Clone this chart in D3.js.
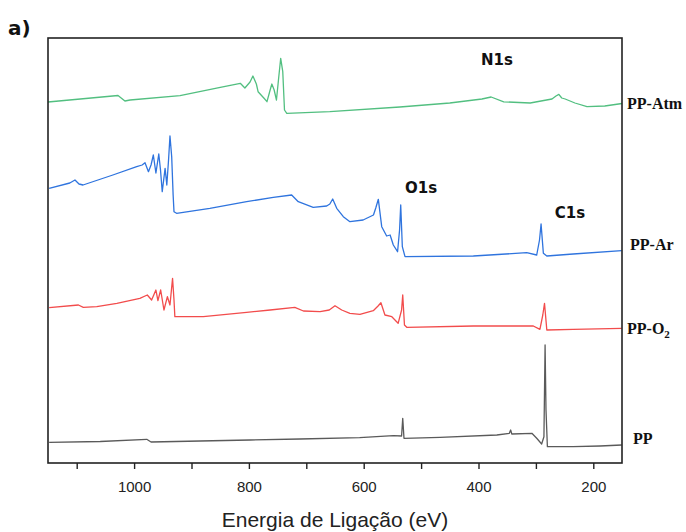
<!DOCTYPE html>
<html><head><meta charset="utf-8">
<script src="https://cdn.jsdelivr.net/npm/d3@7"></script>
<style>body{margin:0;background:#fff}</style>
</head><body>
<svg id="c" width="686" height="532"></svg>
<script>
// Binding energy (eV) and intensity (arb. units)
const atmEV = [1150,1028,1016,1007,920,852,815,807,798,793,787,784,774,768.5,763,760,756,752,748.5,744.6,741,738,734,659,537,450,394,378,356,310,272,265,260,255,249,232,211,180,150];
const atmI  = [361,367.5,362,363,367.3,375.3,379.7,375,381,387,379,371.3,365,361.3,373,379,373,363,383,404.7,391.3,353,349.7,351.3,356,360,364,366,361.2,360,364,367,368.6,365,364,360,356.4,357,359.5];

const arEV = [1148,1112,1103,1096,1089,1037,995.5,986,981,975,970.5,966.5,962,957,954,951,946,943,940,937.5,934.5,932,930.5,926,868,804,757.5,725.5,714,688,664.5,659,654,647,635.5,624,601,583,579,574.5,568.6,560,554,548.4,541,537.5,535.5,532.7,528,409,316,298.6,293.7,291,287,281,235,150.5];
const arI  = [274.7,280,283,279,278,288,296.3,298,300.3,291.3,298,308,290,309,293,271.3,294.7,278,303,327,306.3,268,251.3,249.7,254.7,261.3,265.7,268,261.3,255.7,257,259,264,254.7,246.3,241.3,243,248,255,263.7,236.3,227,228,218,211.3,233,258,216.3,206.3,207,210.3,208,223,239,209.7,207,209,212.3];

const o2EV = [1148,1097,1088.5,1065,1030,990,977,969.5,962,958.5,953.7,948,942,937.5,933,930.5,929,879.5,804,763,720,705,676,660,650,638.3,624,606.5,583.3,575,570,563,551,540,534,532,529,525,409,304.5,293,288,285,281,235,150.5];
const o2I  = [155.3,158,155.7,156.3,159.7,164.7,168,163,173,162.3,173,153,166.3,158,184.7,163,146.3,146.3,150.7,153,155.7,152,151.3,153,157.3,153,149.7,148.7,152.3,157,160.3,148,146.3,139.7,153,168,138,135.7,137,137,133.7,148,159.7,133,133.7,134.7];

const ppEV = [1148,1059,978,970.5,885,798,711,607,548.4,534,532,529.8,467,368,346.3,344,342,307,298.6,290,286,284,282.4,280,235,188.3,150.5];
const ppI  = [20.7,21.5,23.7,21,22,23,24,25.3,27.3,27,44.7,24.7,25.7,28,29.7,33,29,29.7,24.7,19,26.3,118,53,16.3,16.3,17,18];

const seriesNames  = ["PP-Atm","PP-Ar","PP-O2","PP"];
const seriesColors = ["#52bf80","#2f74de","#f24c4c","#5a5a5a"];
const xTicks = [1100,1000,900,800,700,600,500,400,300,200];
const peakLabels = ["N1s","O1s","C1s"];

const svg = d3.select("#c");
const L = 48, R = 622, T = 38, B = 463;
const x = d3.scaleLinear().domain([1150,150]).range([L,R]);
const y = d3.scaleLinear().domain([0,425]).range([B,T]);

const series = [
  {ev: atmEV, it: atmI},
  {ev: arEV,  it: arI},
  {ev: o2EV,  it: o2I},
  {ev: ppEV,  it: ppI}
];
const line = d3.line().x(d=>x(d[0])).y(d=>y(d[1]));
series.forEach((s,i)=>{
  const pts = s.ev.map((e,j)=>[e,s.it[j]]);
  svg.append("path").attr("d",line(pts)).attr("fill","none")
    .attr("stroke",seriesColors[i]).attr("stroke-width",1.3).attr("stroke-linejoin","round");
});

// frame
svg.append("rect").attr("x",L).attr("y",T).attr("width",R-L).attr("height",B-T)
  .attr("fill","none").attr("stroke","#222").attr("stroke-width",1.6);

// axis
const ax = svg.append("g").attr("transform",`translate(0,${B})`)
  .call(d3.axisBottom(x).tickValues(xTicks).tickFormat(d=>d%200===0?d:"").tickSize(6).tickPadding(12));
ax.select(".domain").remove();
ax.selectAll("line").attr("stroke","#222").attr("stroke-width",1.4);
ax.selectAll("text").attr("font-family","'Liberation Sans',Arial,sans-serif").attr("font-size",15).attr("fill","#222");

svg.append("text").attr("x",335).attr("y",527).attr("text-anchor","middle")
  .attr("font-family","'Liberation Sans',Arial,sans-serif").attr("font-size",21).attr("fill","#222")
  .text("Energia de Ligação (eV)");

svg.append("text").attr("x",8).attr("y",35).attr("font-family","'DejaVu Sans',sans-serif")
  .attr("font-weight","bold").attr("font-size",20).attr("fill","#111").text("a)");

// peak labels
const peakPos = [[497,65],[421,193],[570,218]];
peakLabels.forEach((t,i)=>{
  svg.append("text").attr("x",peakPos[i][0]).attr("y",peakPos[i][1]).attr("text-anchor","middle")
    .attr("font-family","'DejaVu Sans',sans-serif").attr("font-weight","bold").attr("font-size",15)
    .attr("fill","#111").text(t);
});

// series labels
const labPos = [[627,108.5],[630,249.5],[627,333.5],[633,443.5]];
seriesNames.forEach((n,i)=>{
  const t = svg.append("text").attr("x",labPos[i][0]).attr("y",labPos[i][1])
    .attr("font-family","'Liberation Serif','Times New Roman',serif").attr("font-weight","bold")
    .attr("font-size",16).attr("fill","#111");
  if (n==="PP-O2") {
    t.append("tspan").text("PP-O");
    t.append("tspan").attr("font-size",11).attr("dy",4).text("2");
  } else t.text(n);
});
</script>
</body></html>
